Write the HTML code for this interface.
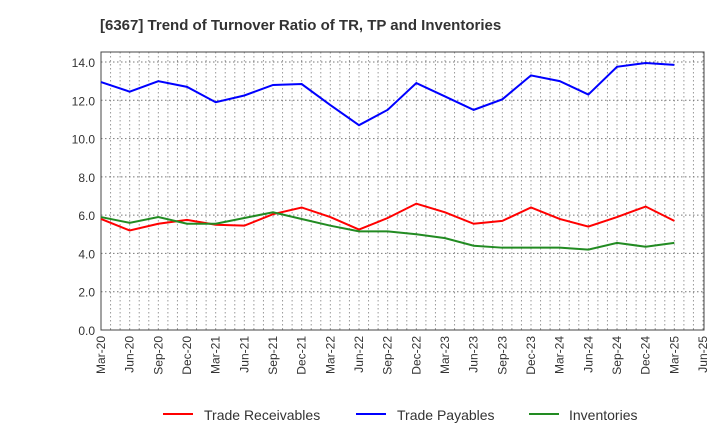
<!DOCTYPE html>
<html><head><meta charset="utf-8"><style>
body{margin:0;background:#fff;font-family:"Liberation Sans",sans-serif}
</style></head><body>
<svg width="720" height="440" xmlns="http://www.w3.org/2000/svg" font-family="Liberation Sans, sans-serif">
<text x="100" y="30" font-size="15" font-weight="bold" fill="#333">[6367]  Trend of Turnover Ratio of TR, TP and Inventories</text>
<g id="grid"></g>
<g id="axes"></g>
<g id="series"></g>
<g>
<line x1="163" y1="414" x2="193" y2="414" stroke="#f00" stroke-width="2"/>
<text x="204" y="420" font-size="14" fill="#333">Trade Receivables</text>
<line x1="356" y1="414" x2="386" y2="414" stroke="#00f" stroke-width="2"/>
<text x="397" y="420" font-size="14" fill="#333">Trade Payables</text>
<line x1="529" y1="414" x2="559" y2="414" stroke="#228b22" stroke-width="2"/>
<text x="569" y="420" font-size="14" fill="#333">Inventories</text>
</g>
</svg>
<script>
const xLabels=["Mar-20","Jun-20","Sep-20","Dec-20","Mar-21","Jun-21","Sep-21","Dec-21","Mar-22","Jun-22","Sep-22","Dec-22","Mar-23","Jun-23","Sep-23","Dec-23","Mar-24","Jun-24","Sep-24","Dec-24","Mar-25","Jun-25"];
const yTicks=[0,2,4,6,8,10,12,14];
const receivables=[5.8,5.2,5.55,5.75,5.5,5.45,6.05,6.4,5.9,5.25,5.85,6.6,6.15,5.55,5.7,6.4,5.8,5.4,5.9,6.45,5.7];
const payables=[12.95,12.45,13.0,12.7,11.9,12.25,12.8,12.85,11.75,10.7,11.5,12.9,12.2,11.5,12.05,13.3,13.0,12.3,13.75,13.95,13.85];
const inventories=[5.9,5.6,5.9,5.55,5.55,5.85,6.15,5.8,5.45,5.15,5.15,5.0,4.8,4.4,4.3,4.3,4.3,4.2,4.55,4.35,4.55];
const L=101,R=704,T=52,B=330,step=(703-101)/21;
const x=i=>L+i*step, y=v=>B-v*(B-62)/14;
const NS="http://www.w3.org/2000/svg";
function mk(p,tag,a){const e=document.createElementNS(NS,tag);for(const k in a)e.setAttribute(k,a[k]);p.appendChild(e);return e;}
const grid=document.getElementById('grid'),axes=document.getElementById('axes'),ser=document.getElementById('series');
for(let m=1;m<xLabels.length*3;m++){const xx=L+m*step/3;if(xx>=R)break;
 const g=mk(grid,'line',{x1:xx,x2:xx,y1:T,y2:B,stroke:'#999','stroke-dasharray':'1.5,2.5','stroke-width':1});
 }
yTicks.forEach(v=>{if(v>0){const g=mk(grid,'line',{x1:L,x2:R,y1:y(v),y2:y(v),stroke:'#777','stroke-dasharray':'1.5,2.5'});
 }
 const t=mk(axes,'text',{x:L-6,y:y(v)+5,'text-anchor':'end','font-size':12,fill:'#333'});t.textContent=v.toFixed(1);
 });
const fr=mk(axes,'rect',{x:L,y:T,width:R-L,height:B-T,fill:'none',stroke:'#444','stroke-width':1});

xLabels.forEach((s,i)=>{const t=mk(axes,'text',{transform:`translate(${x(i)+4},${B+6}) rotate(-90)`,'text-anchor':'end','font-size':12,fill:'#333'});t.textContent=s;
 });
[[receivables,'#f00','receivables-line'],[payables,'#00f','payables-line'],[inventories,'#228b22','inventories-line']].forEach(([d,c,n])=>{
 const p=mk(ser,'polyline',{points:d.map((v,i)=>x(i)+','+y(v)).join(' '),fill:'none',stroke:c,'stroke-width':2});
 });
</script>
</body></html>
